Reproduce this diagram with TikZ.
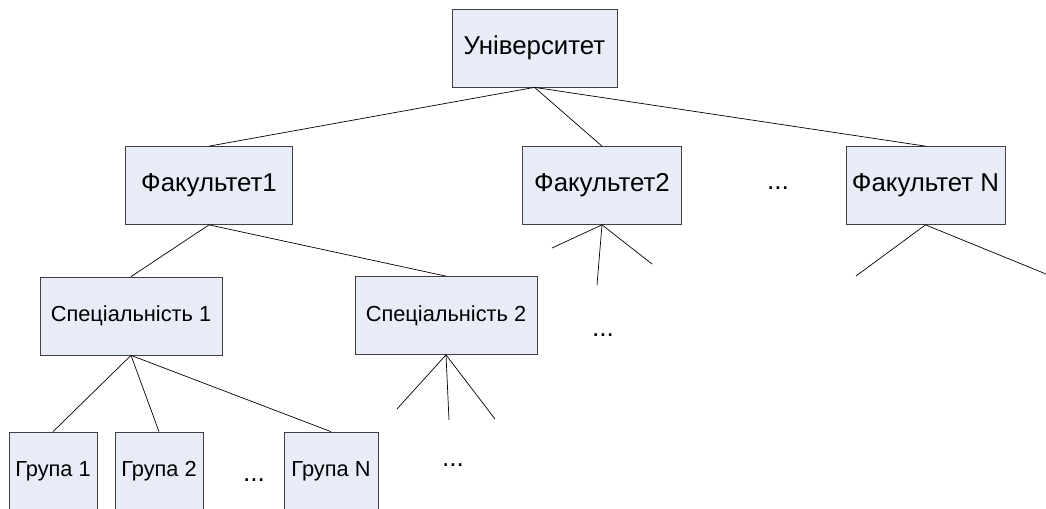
\documentclass[tikz,border=0pt]{standalone}
\usepackage{fontspec}
\setmainfont{Liberation Sans}
\usetikzlibrary{positioning}
\definecolor{boxfill}{RGB}{231,236,247}
\definecolor{boxline}{RGB}{64,64,64}

\begin{document}
\begin{tikzpicture}[x=0.02cm,y=-0.02cm,
  blk/.style={draw=boxline,fill=boxfill,rectangle,inner sep=0pt,minimum height=78*0.02cm},
  big/.style={blk,font=\fontsize{14.7}{16}\selectfont},
  small/.style={blk,font=\fontsize{12.4}{14}\selectfont},
  dots/.style={font=\fontsize{15}{16}\selectfont}]
\def\w{0.02cm}
\useasboundingbox (0,0) rectangle (1046,508);

\node [big, minimum width=165*\w, name=uni]  at (534.5,48)  {Університет};
\node [big, minimum width=167*\w, name=fac1] at (209,185.5) {Факультет1};
\node [big, minimum width=159*\w, name=fac2] at (602,185.5) {Факультет2};
\node [big, minimum width=159*\w, name=facn] at (925.5,185.5) {Факультет N};
\node [small, minimum width=182*\w, name=sp1] at (131,316)   {Спеціальність 1};
\node [small, minimum width=182*\w, name=sp2] at (446,315.5) {Спеціальність 2};
\node [small, minimum width=88*\w, name=g1]  at (53,471)    {Група 1};
\node [small, minimum width=88*\w, name=g2]  at (159,471)   {Група 2};
\node [small, minimum width=94*\w, name=gn]  at (331,471)   {Група N};

\node [dots, name=d1] at (778,188) {...};
\node [dots, name=d2] at (603,335) {...};
\node [dots, name=d3] at (254,480) {...};
\node [dots, name=d4] at (453,465) {...};

% free ends
\coordinate (f2a) at (552,248);
\coordinate (f2b) at (597,285);
\coordinate (f2c) at (652,264);
\coordinate (fna) at (856,276);
\coordinate (fnb) at (1046,274);
\coordinate (s2a) at (397,409);
\coordinate (s2b) at (449,420);
\coordinate (s2c) at (495,419);

\draw (uni.south) -- (fac1.north);
\draw (uni.south) -- (fac2.north);
\draw (uni.south) -- (facn.north);
\draw (fac1.south) -- (sp1.north);
\draw (fac1.south) -- (sp2.north);
\draw (sp1.south) -- (g1.north);
\draw (sp1.south) -- (g2.north);
\draw (sp1.south) -- (gn.north);
\draw (fac2.south) -- (f2a);
\draw (fac2.south) -- (f2b);
\draw (fac2.south) -- (f2c);
\draw (facn.south) -- (fna);
\draw (facn.south) -- (fnb);
\draw (sp2.south) -- (s2a);
\draw (sp2.south) -- (s2b);
\draw (sp2.south) -- (s2c);
\end{tikzpicture}
\end{document}
